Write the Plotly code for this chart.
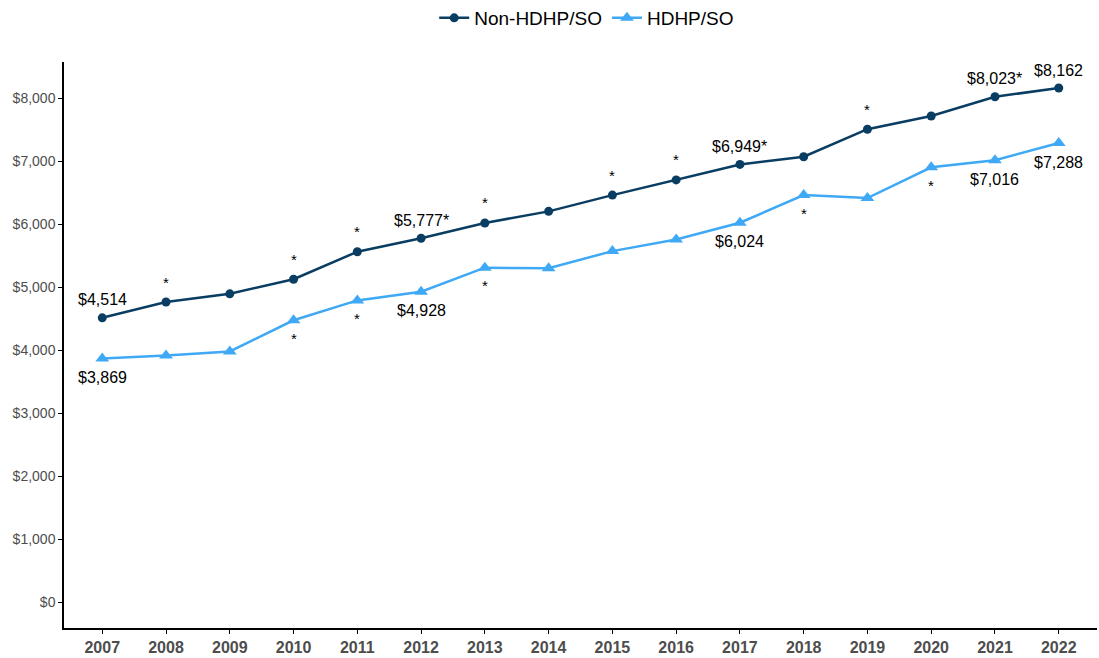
import plotly.graph_objects as go

years = list(range(2007, 2023))
non_hdhp = [4514, 4765, 4895, 5126, 5563, 5777, 6020, 6204, 6462, 6703,
            6949, 7071, 7508, 7718, 8023, 8162]
hdhp = [3869, 3916, 3980, 4475, 4790, 4928, 5310, 5300, 5573, 5757,
        6024, 6462, 6415, 6904, 7016, 7288]

# years where the difference from the prior year is significant
non_hdhp_sig = [2008, 2010, 2011, 2012, 2013, 2015, 2016, 2017, 2019, 2021]
hdhp_sig = [2010, 2011, 2013, 2018, 2020]
# years whose value is printed
labeled_years = [2007, 2012, 2017, 2021, 2022]

y_ticks = list(range(0, 9000, 1000))
y_tick_text = [f"${v:,}" for v in y_ticks]

DARK = "#0a3d62"
LIGHT = "#3fa9f5"
FONT = "Liberation Sans, Arial, sans-serif"

fig = go.Figure()
fig.add_trace(go.Scatter(
    x=years, y=non_hdhp, name="Non-HDHP/SO", mode="lines+markers",
    line=dict(color=DARK, width=2.5),
    marker=dict(symbol="circle", size=9, color=DARK)))
fig.add_trace(go.Scatter(
    x=years, y=hdhp, name="HDHP/SO", mode="lines+markers",
    line=dict(color=LIGHT, width=2.5),
    marker=dict(symbol="triangle-up", size=12, color=LIGHT)))

annotations = []
for yr, v in zip(years, non_hdhp):
    star = yr in non_hdhp_sig
    if yr in labeled_years:
        annotations.append(dict(x=yr, y=v, text=f"${v:,}" + ("*" if star else ""),
                                yshift=18, font=dict(size=16, color="black")))
    elif star:
        annotations.append(dict(x=yr, y=v, text="*", yshift=20,
                                font=dict(size=15, color="black")))
for yr, v in zip(years, hdhp):
    star = yr in hdhp_sig
    if yr in labeled_years:
        annotations.append(dict(x=yr, y=v, text=f"${v:,}" + ("*" if star else ""),
                                yshift=-19, font=dict(size=16, color="black")))
    elif star:
        annotations.append(dict(x=yr, y=v, text="*", yshift=-18,
                                font=dict(size=15, color="black")))
for a in annotations:
    a.update(xref="x", yref="y", showarrow=False)

fig.update_layout(
    width=1099, height=658,
    margin=dict(l=64, r=2, t=62, b=22),
    paper_bgcolor="white", plot_bgcolor="white",
    font=dict(family=FONT),
    showlegend=True,
    legend=dict(orientation="h", x=0.506, xanchor="center",
                yref="container", y=1 - 18 / 658, yanchor="middle",
                font=dict(size=19, color="black"), itemwidth=30),
    annotations=annotations,
    xaxis=dict(range=[2006.4, 2022.6], tickmode="array", tickvals=years,
               ticktext=[f"<b>{y}</b>" for y in years],
               showline=True, linecolor="black", linewidth=1.5,
               ticks="outside", ticklen=4, tickcolor="black",
               showgrid=False, zeroline=False,
               tickfont=dict(size=16, color="#4d4d4d")),
    yaxis=dict(range=[-410, 8575], tickmode="array", tickvals=y_ticks,
               ticktext=y_tick_text,
               showline=True, linecolor="black", linewidth=1.5,
               ticks="outside", ticklen=4, tickcolor="black",
               showgrid=False, zeroline=False,
               tickfont=dict(size=14, color="#4d4d4d")),
)

fig.write_html("out.html")
